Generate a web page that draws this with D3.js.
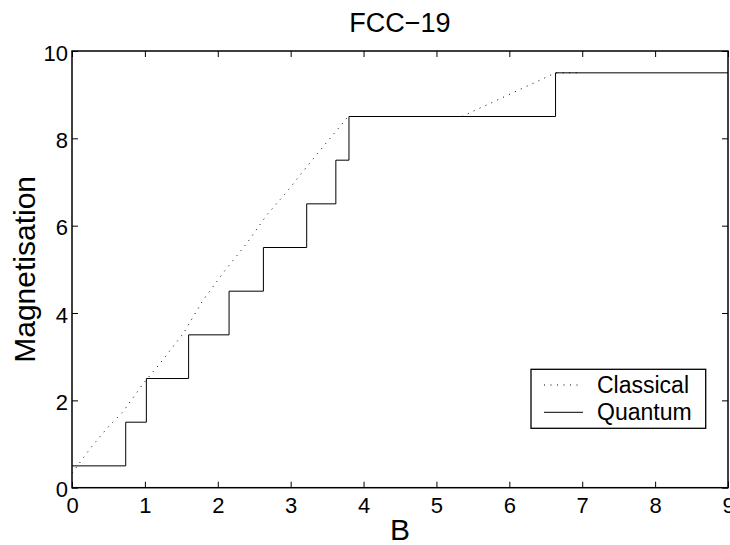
<!DOCTYPE html>
<html lang="en">
  <head>
    <meta charset="utf-8">
    <style>
      body { margin: 0; background: #fff; }
      text { font-family: "Liberation Sans", Arial, Helvetica, sans-serif; fill: #000; }
    </style>
  </head>
  <body>
    <script src="https://d3js.org/d3.v7.min.js"></script>
    <script>
      // data
      var quantumB = [0, 0.737, 1.02, 1.6, 2.155, 2.626, 3.22, 3.62, 3.8, 6.634, 9];
      var quantumM = [0.5, 1.5, 2.5, 3.5, 4.5, 5.5, 6.5, 7.5, 8.5, 9.5, 9.5];
      var classicalB = [0, 0.25, 0.48, 0.7, 0.98, 1.21, 1.53, 1.8, 2.12, 2.4, 2.67, 2.95, 3.22, 3.5, 3.79, 5.35, 6.634, 7.0];
      var classicalM = [0.33, 0.9, 1.36, 1.74, 2.39, 2.85, 3.54, 4.3, 5.02, 5.6, 6.24, 6.78, 7.35, 7.92, 8.5, 8.5, 9.5, 9.5];
      var xTicks = [0, 1, 2, 3, 4, 5, 6, 7, 8, 9];
      var yTicks = [0, 2, 4, 6, 8, 10];
      var seriesNames = ["Classical", "Quantum"];

      var width = 730, height = 545;
      // plot box (window.top is reserved, so prefixed names)
      var pLeft = 72, pRight = 728, pTop = 51, pBottom = 487.7;

      var svg = d3.select("body").append("svg")
        .attr("width", width)
        .attr("height", height);

      var x = d3.scaleLinear().domain([0, 9]).range([pLeft, pRight]);
      var y = d3.scaleLinear().domain([0, 10]).range([pBottom, pTop]);

      // lines
      var quantum = quantumB.map(function (b, i) { return [b, quantumM[i]]; });
      var classical = classicalB.map(function (b, i) { return [b, classicalM[i]]; });

      var stepLine = d3.line()
        .x(function (d) { return x(d[0]); })
        .y(function (d) { return y(d[1]); })
        .curve(d3.curveStepAfter);
      var plainLine = d3.line()
        .x(function (d) { return x(d[0]); })
        .y(function (d) { return y(d[1]); });

      svg.append("path")
        .datum(classical)
        .attr("d", plainLine)
        .attr("fill", "none")
        .attr("stroke", "#000")
        .attr("stroke-width", 1)
        .attr("stroke-dasharray", "1,5.5");

      svg.append("path")
        .datum(quantum)
        .attr("d", stepLine)
        .attr("fill", "none")
        .attr("stroke", "#000")
        .attr("stroke-width", 1);

      // axes, ticks pointing inward
      var gx = svg.append("g")
        .attr("transform", "translate(0," + pBottom + ")")
        .call(d3.axisBottom(x).tickValues(xTicks).tickFormat(d3.format("d"))
          .tickSizeInner(-6).tickSizeOuter(0).tickPadding(10));
      var gy = svg.append("g")
        .attr("transform", "translate(" + pLeft + ",0)")
        .call(d3.axisLeft(y).tickValues(yTicks).tickFormat(d3.format("d"))
          .tickSizeInner(-6).tickSizeOuter(0).tickPadding(4));
      var gt = svg.append("g")
        .attr("transform", "translate(0," + pTop + ")")
        .call(d3.axisTop(x).tickValues(xTicks).tickFormat("")
          .tickSizeInner(-6).tickSizeOuter(0));
      var gr = svg.append("g")
        .attr("transform", "translate(" + pRight + ",0)")
        .call(d3.axisRight(y).tickValues(yTicks).tickFormat("")
          .tickSizeInner(-6).tickSizeOuter(0));

      [gx, gy, gt, gr].forEach(function (g) {
        g.select(".domain").remove();
        g.selectAll(".tick line").attr("stroke", "#000").attr("stroke-width", 1);
        g.selectAll("text")
          .style("font-family", "'Liberation Sans', Arial, Helvetica, sans-serif")
          .style("font-size", "22px")
          .attr("fill", "#000");
      });
      gy.selectAll("text").attr("dy", "0.42em");

      // frame
      svg.append("rect")
        .attr("x", pLeft)
        .attr("y", pTop)
        .attr("width", pRight - pLeft)
        .attr("height", pBottom - pTop)
        .attr("fill", "none")
        .attr("stroke", "#000")
        .attr("stroke-width", 1.5);

      // title and axis labels
      svg.append("text")
        .attr("x", (pLeft + pRight) / 2)
        .attr("y", 32)
        .attr("text-anchor", "middle")
        .style("font-size", "27px")
        .text("FCC\u221219");

      svg.append("text")
        .attr("x", (pLeft + pRight) / 2)
        .attr("y", 540)
        .attr("text-anchor", "middle")
        .style("font-size", "30px")
        .text("B");

      svg.append("text")
        .attr("transform", "translate(35," + (pTop + pBottom) / 2 + ") rotate(-90)")
        .attr("text-anchor", "middle")
        .style("font-size", "30px")
        .text("Magnetisation");

      // legend
      var legend = svg.append("g").attr("transform", "translate(531,369.3)");
      legend.append("rect")
        .attr("width", 174.7)
        .attr("height", 59)
        .attr("fill", "#fff")
        .attr("stroke", "#000")
        .attr("stroke-width", 1.3);

      seriesNames.forEach(function (name, i) {
        var ly = 15.7 + i * 27.3;
        legend.append("line")
          .attr("x1", 13)
          .attr("x2", 52)
          .attr("y1", ly)
          .attr("y2", ly)
          .attr("stroke", "#000")
          .attr("stroke-width", 1)
          .attr("stroke-dasharray", i === 0 ? "1,5.5" : null);
        legend.append("text")
          .attr("x", 66)
          .attr("y", ly + 8)
          .style("font-size", "23px")
          .text(name);
      });
    </script>
  </body>
</html>
